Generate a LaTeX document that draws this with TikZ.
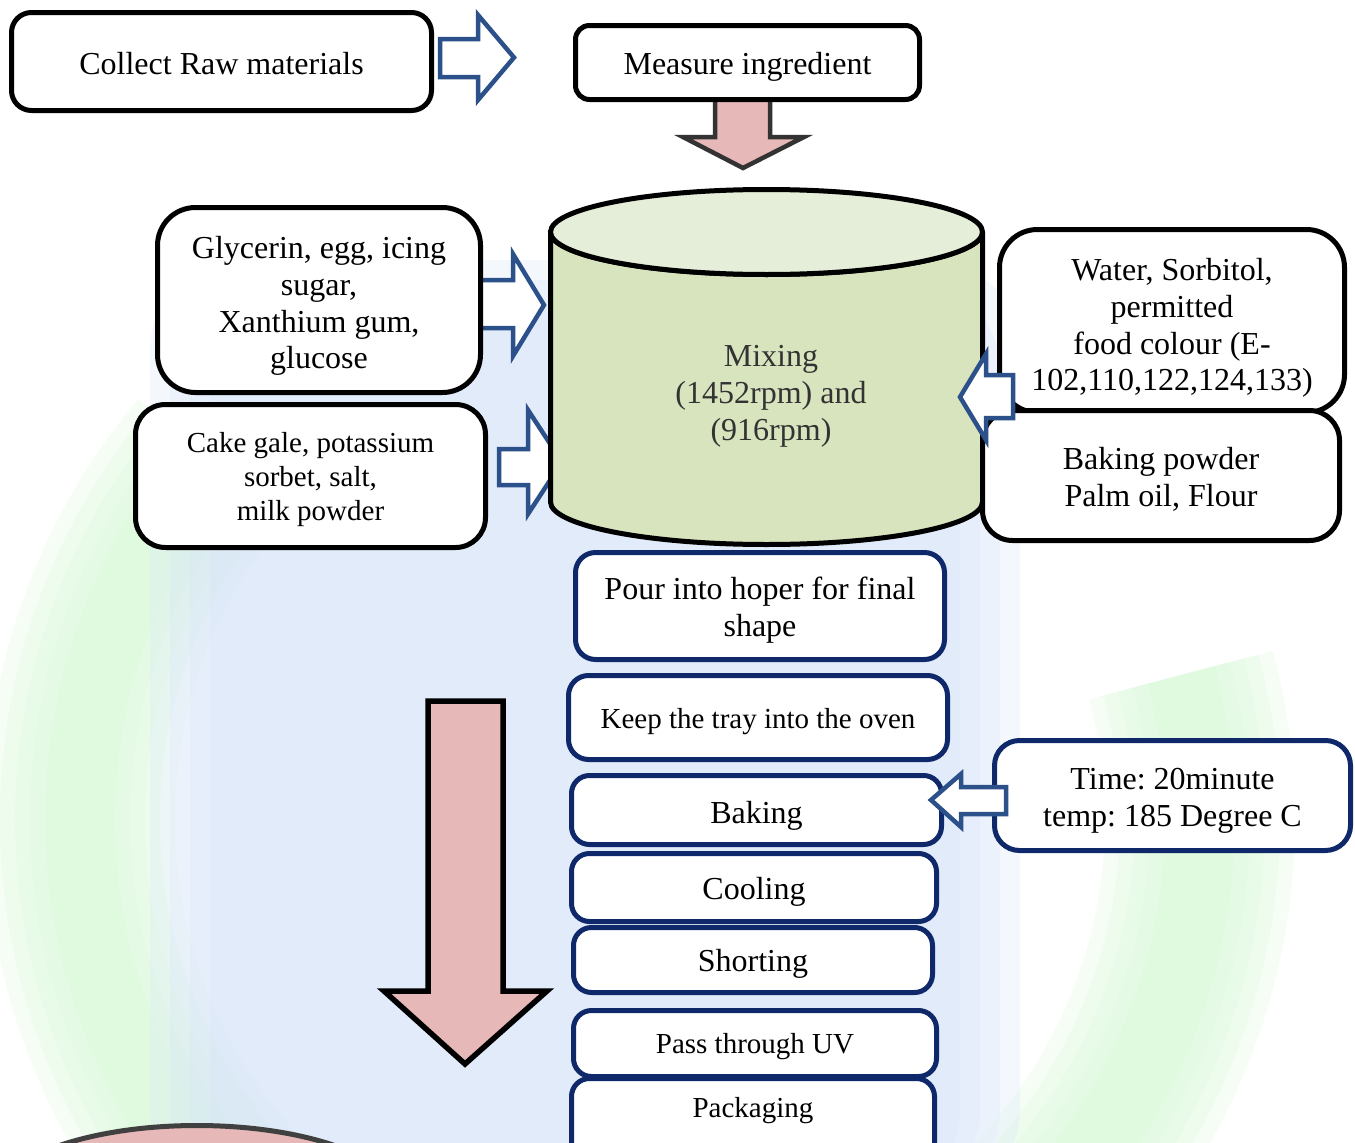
\documentclass[tikz,border=0pt]{standalone}
\usepackage{fontspec}
\setmainfont{Liberation Serif}
\definecolor{navy}{RGB}{14,40,105}
\definecolor{arrowblue}{RGB}{44,80,138}
\definecolor{pinkfill}{RGB}{230,184,183}
\definecolor{cyltop}{RGB}{229,238,216}
\definecolor{cylbody}{RGB}{216,228,190}
\definecolor{wmblue}{RGB}{214,228,250}
\definecolor{wmgreen}{RGB}{214,250,214}
\begin{document}
\frenchspacing
\begin{tikzpicture}[x=1pt,y=-1pt,
  box/.style={draw, fill=white, inner sep=0pt},
  blackbox/.style={box, draw=black, line width=5pt},
  bluebox/.style={box, draw=navy, line width=5pt, rounded corners=18pt},
  bigtext/.style={align=center, inner sep=0pt, font=\fontsize{32}{36.8}\selectfont},
  smalltext/.style={align=center, inner sep=0pt, font=\fontsize{29}{34}\selectfont},
  hollow/.style={draw=arrowblue, line width=4.5pt, fill=white, line join=miter},
  pinkarrow/.style={draw=black!80, fill=pinkfill, line width=4.5pt, line join=miter}
]
\useasboundingbox (0,0) rectangle (1355,1143);
\fill[white] (0,0) rectangle (1355,1143);

% faint logo behind the chart, built from soft overlapping layers
\begin{scope}
  \clip (0,0) rectangle (1355,1143);
  \foreach \w in {190,160,130,100,70} {
    \draw[wmgreen, opacity=0.22, line width=\w pt] (640,820) ++(220:560) arc[start angle=220, end angle=95, radius=560];
    \draw[wmgreen, opacity=0.22, line width=\w pt] (640,820) ++(80:560) arc[start angle=80, end angle=-15, radius=560];
  }
  \foreach \d in {0,20,40,60} {
    \fill[wmblue, opacity=0.25, rounded corners=90pt] (150+\d,260+\d) rectangle (1020-\d,1200);
  }
\end{scope}

% mixing vessel inputs (drawn behind the vessel)
\draw[hollow] (480,280) -- (513,280) -- (513,254) -- (544,305) -- (513,356) -- (513,328) -- (480,328) -- cycle;
\draw[hollow] (499,449) -- (528,449) -- (528,410) -- (562,462) -- (528,514) -- (528,485) -- (499,485) -- cycle;

% mixing vessel
\filldraw[fill=cylbody, draw=black, line width=5pt, line join=round]
  (550.5,232) -- (550.5,502) arc[start angle=180, end angle=0, x radius=216, y radius=42.5]
  -- (982.5,232) arc[start angle=0, end angle=180, x radius=216, y radius=42.5] -- cycle;
\filldraw[fill=cyltop, draw=black, line width=5pt] (766.5,232) ellipse[x radius=216, y radius=42.5];
\node[bigtext, text=black!80] (mix) at (771,396.5) {Mixing\\(1452rpm) and\\(916rpm)};

% top row
\draw[pinkarrow] (715,96) -- (715,137) -- (683,137) -- (743,168) -- (804,137) -- (770,137) -- (770,96) -- cycle;
\node[blackbox, rounded corners=20pt, minimum width=420pt, minimum height=98pt] (collect) at (221.5,61.5) {};
\node[bigtext] (collect-t) at ([yshift=-2.5pt]collect.center) {Collect Raw materials};
\node[blackbox, rounded corners=14pt, minimum width=344pt, minimum height=74pt] (measure) at (747.5,62.5) {};
\node[bigtext] (measure-t) at ([yshift=-4pt]measure.center) {Measure ingredient};
\draw[hollow] (440,39) -- (478,39) -- (478,15) -- (514,57.5) -- (478,100) -- (478,77) -- (440,77) -- cycle;

% ingredient boxes
\node[blackbox, rounded corners=38pt, minimum width=323pt, minimum height=185pt] (glyc) at (319,300) {};
\node[bigtext] (glyc-t) at ([yshift=-6pt]glyc.center) {Glycerin, egg, icing\\sugar,\\Xanthium gum,\\glucose};
\node[blackbox, rounded corners=30pt, minimum width=350pt, minimum height=143pt] (cake) at (310.5,476) {};
\node[smalltext] (cake-t) at ([yshift=-4pt]cake.center) {Cake gale, potassium\\sorbet, salt,\\milk powder};
\node[blackbox, rounded corners=38pt, minimum width=345pt, minimum height=183pt] (water) at (1172,321) {};
\node[bigtext] (water-t) at ([yshift=-7pt]water.center) {Water, Sorbitol,\\permitted\\food colour (E-\\102,110,122,124,133)};
\node[blackbox, rounded corners=30pt, minimum width=357pt, minimum height=130pt] (bpow) at (1161,475.5) {};
\node[bigtext] (bpow-t) at ([yshift=-4pt]bpow.center) {Baking powder\\Palm oil, Flour};
\draw[hollow] (1013,375) -- (986,375) -- (986,354) -- (960,397) -- (986,440) -- (986,418) -- (1013,418) -- cycle;

% process steps
\node[bluebox, rounded corners=20pt, minimum width=369pt, minimum height=107pt] (pour) at (760,606) {};
\node[bigtext] (pour-t) at ([yshift=-4pt]pour.center) {Pour into hoper for final\\shape};
\node[bluebox, rounded corners=20pt, minimum width=379pt, minimum height=84pt] (keep) at (758,717.5) {};
\node[smalltext] (keep-t) at ([yshift=-4pt]keep.center) {Keep the tray into the oven};
\node[bluebox, minimum width=370pt, minimum height=69pt] (baking) at (756.5,810) {};
\node[bigtext] (baking-t) at ([yshift=-5.5pt]baking.center) {Baking};
\node[bluebox, minimum width=365pt, minimum height=68pt] (cooling) at (754,887.5) {};
\node[bigtext] (cooling-t) at ([yshift=-4pt]cooling.center) {Cooling};
\node[bluebox, minimum width=359pt, minimum height=65pt] (shorting) at (753,960) {};
\node[bigtext] (shorting-t) at ([yshift=-4pt]shorting.center) {Shorting};
\node[bluebox, minimum width=363pt, minimum height=66pt] (uv) at (755,1043.5) {};
\node[smalltext] (uv-t) at ([yshift=-3pt]uv.center) {Pass through UV};
\node[bluebox, minimum width=363pt, minimum height=89pt] (pack) at (753,1123) {};
\node[smalltext] (pack-t) at (753,1111) {Packaging};

\node[bluebox, rounded corners=25pt, minimum width=356pt, minimum height=110pt] (time) at (1172.5,795.5) {};
\node[bigtext] (time-t) at ([yshift=-5pt]time.center) {Time: 20minute\\temp: 185 Degree C};
\draw[hollow] (1006,787) -- (961,787) -- (961,774) -- (931,800) -- (961,827) -- (961,814) -- (1006,814) -- cycle;

% overall flow direction
\draw[pinkarrow, draw=black, line width=5.5pt] (428,701) -- (503,701) -- (503,991) -- (547,991) -- (465,1064) -- (384,991) -- (428,991) -- cycle;

% end-of-line vessel
\filldraw[fill=pinkfill, draw=black!75, line width=5pt] (197,1205.5) ellipse[x radius=208, y radius=80];
\end{tikzpicture}
\end{document}
